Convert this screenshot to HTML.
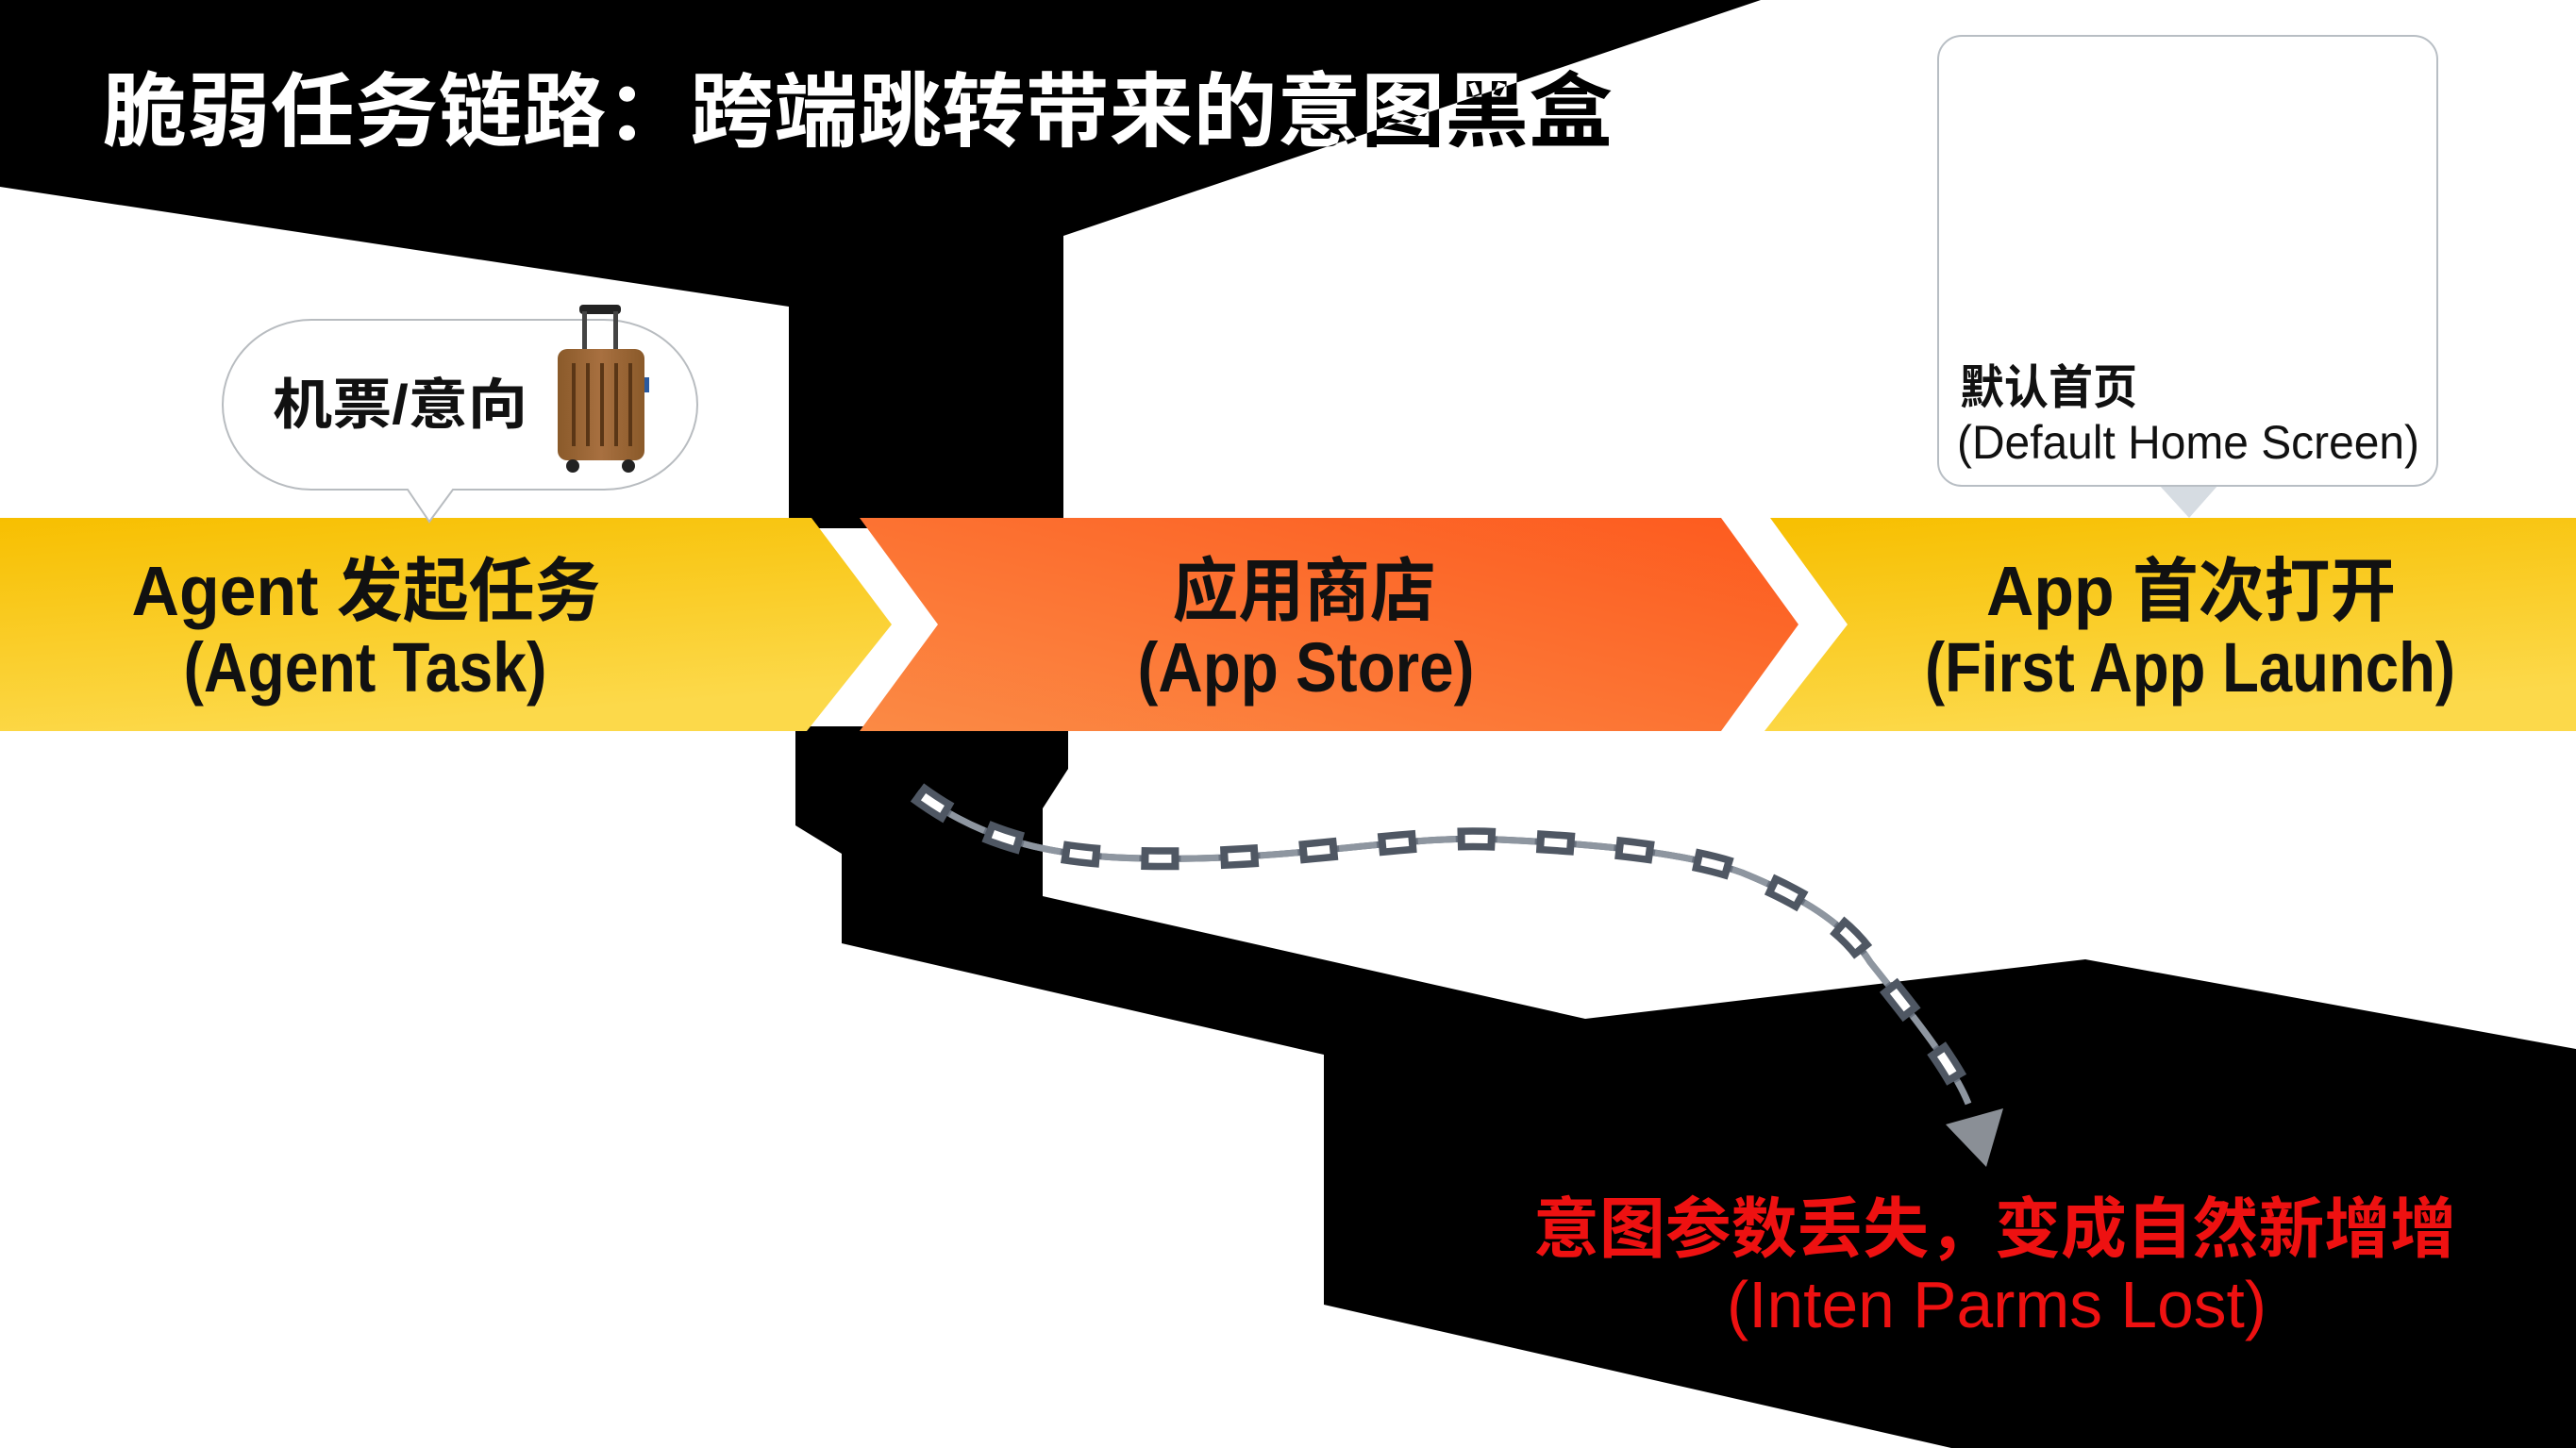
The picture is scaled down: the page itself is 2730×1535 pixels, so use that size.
<!DOCTYPE html>
<html><head><meta charset="utf-8"><style>
html,body{margin:0;padding:0;width:2730px;height:1535px;overflow:hidden;background:#fff}
svg{display:block}
text{font-family:"Liberation Sans","Noto Sans CJK SC",sans-serif}
</style></head><body>
<svg width="2730" height="1535" viewBox="0 0 2730 1535" xmlns="http://www.w3.org/2000/svg">
<defs>
<linearGradient id="yl" x1="0" y1="0" x2="0.3" y2="1"><stop offset="0" stop-color="#f7bf00"/><stop offset="1" stop-color="#fcd94a"/></linearGradient>
<linearGradient id="or" x1="0" y1="1" x2="1" y2="0"><stop offset="0" stop-color="#fb8a45"/><stop offset="1" stop-color="#fd5a1e"/></linearGradient>
<linearGradient id="br" x1="0" y1="0" x2="1" y2="0"><stop offset="0" stop-color="#8a5a2a"/><stop offset="0.5" stop-color="#a87040"/><stop offset="1" stop-color="#8a5a2a"/></linearGradient>
<clipPath id="topblk"><polygon points="0,0 1866,0 1127,250 1127,560 836,560 836,325 0,198"/></clipPath>
<path id="ch" d="M972,840 C1060,905 1150,912 1268,910 C1400,907 1500,885 1588,890 C1700,895 1790,905 1846,925 C1920,955 1960,985 1982,1020 C2030,1080 2070,1130 2086,1170"/>
</defs>
<rect width="2730" height="1535" fill="#fff"/>
<polygon fill="#000" points="0,0 1866,0 1127,250 1127,560 836,560 836,325 0,198"/>
<polygon fill="#000" points="843,770 1132,770 1132,815 1105,857 1105,950 1680,1080 2210,1017 2730,1112 2730,1535 2068,1535 1403,1383 1403,1118 892,1000 892,905 843,875"/>
<!-- banner -->
<polygon fill="url(#yl)" points="0,549 860,549 945,662 855,775 0,775"/>
<polygon fill="url(#or)" points="911,549 1824,549 1906,662 1824,775 911,775 994,662"/>
<polygon fill="url(#yl)" points="1876,549 2730,549 2730,775 1870,775 1958,662"/>
<g font-size="74" fill="#111" text-anchor="middle" font-weight="bold">
<text x="388" y="652" textLength="497" lengthAdjust="spacingAndGlyphs">Agent 发起任务</text>
<text x="387" y="733" textLength="385" lengthAdjust="spacingAndGlyphs">(Agent Task)</text>
<text x="1382" y="652" textLength="279" lengthAdjust="spacingAndGlyphs">应用商店</text>
<text x="1384" y="733" textLength="357" lengthAdjust="spacingAndGlyphs">(App Store)</text>
<text x="2322" y="652" textLength="434" lengthAdjust="spacingAndGlyphs">App 首次打开</text>
<text x="2321" y="733" textLength="562" lengthAdjust="spacingAndGlyphs">(First App Launch)</text>
</g>
<!-- title: black on white, white on black -->
<text x="109" y="148" font-size="86" font-weight="bold" fill="#000" textLength="1600" lengthAdjust="spacingAndGlyphs">脆弱任务链路：跨端跳转带来的意图黑盒</text>
<text x="109" y="148" font-size="86" font-weight="bold" fill="#fff" textLength="1600" lengthAdjust="spacingAndGlyphs" clip-path="url(#topblk)">脆弱任务链路：跨端跳转带来的意图黑盒</text>
<!-- speech bubble -->
<path d="M330,339 H640 A99,90 0 0 1 739,429 A99,90 0 0 1 640,519 H480 L455,553 L432,519 H330 A94,90 0 0 1 236,429 A94,90 0 0 1 330,339 Z" fill="#fff" stroke="#b8bcc0" stroke-width="2"/>
<text x="289" y="449" font-size="58" fill="#111" font-weight="bold" textLength="270" lengthAdjust="spacingAndGlyphs">机票/意向</text>
<!-- suitcase -->
<rect x="614" y="323" width="44" height="10" rx="4" fill="#222"/>
<rect x="617" y="330" width="5" height="45" fill="#444"/>
<rect x="650" y="330" width="5" height="45" fill="#444"/>
<rect x="591" y="370" width="92" height="118" rx="10" fill="url(#br)"/>
<g stroke="#5a3616" stroke-width="4"><line x1="608" y1="385" x2="608" y2="473"/><line x1="623" y1="385" x2="623" y2="473"/><line x1="638" y1="385" x2="638" y2="473"/><line x1="653" y1="385" x2="653" y2="473"/><line x1="668" y1="385" x2="668" y2="473"/></g>
<rect x="683" y="400" width="5" height="16" fill="#2a5aa0"/>
<circle cx="607" cy="494" r="7" fill="#222"/><circle cx="666" cy="494" r="7" fill="#222"/>
<!-- callout box -->
<polygon points="2288,514 2351,514 2320,549" fill="#d6dce2"/>
<rect x="2054" y="38" width="529" height="477" rx="25" fill="#fff" stroke="#b8bec4" stroke-width="2"/>
<text x="2077" y="428" font-size="50" fill="#111" font-weight="bold" textLength="188" lengthAdjust="spacingAndGlyphs">默认首页</text>
<text x="2074" y="486" font-size="50" fill="#111" textLength="490" lengthAdjust="spacingAndGlyphs">(Default Home Screen)</text>
<!-- chain -->
<use href="#ch" fill="none" stroke="#6a7380" stroke-width="7"/>
<use href="#ch" fill="none" stroke="#4f5763" stroke-width="24" stroke-dasharray="40 44" stroke-linecap="butt"/>
<use href="#ch" fill="none" stroke="#ffffff" stroke-width="9" stroke-dasharray="0 8 24 52"/>
<use href="#ch" fill="none" stroke="#8e96a0" stroke-width="7" stroke-dasharray="0 42 40 2"/>
<polygon points="2062,1192 2123,1175 2105,1237" fill="#8a8f96"/>
<!-- red text -->
<g fill="#ee1111" font-size="70" font-weight="bold">
<text x="1625" y="1327" textLength="978" lengthAdjust="spacingAndGlyphs">意图参数丢失，变成自然新增增</text>
<text x="1830" y="1407" textLength="572" lengthAdjust="spacingAndGlyphs" font-weight="normal">(Inten Parms Lost)</text>
</g>
</svg>
</body></html>
